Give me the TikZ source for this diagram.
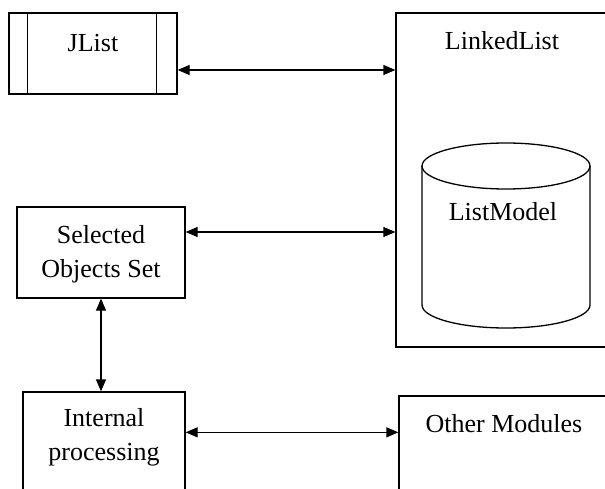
\documentclass[tikz,border=0pt]{standalone}
\usepackage{fontspec}
\setmainfont{Liberation Serif}
\usetikzlibrary{arrows.meta,calc}

\tikzset{
  box/.style={draw, line width=1.3pt, rectangle, inner sep=0pt},
  lbl/.style={font=\fontsize{26}{34}\selectfont, align=center, inner sep=0pt},
  link/.style={line width=1.3pt, {Triangle[length=12pt,width=10pt]}-{Triangle[length=12pt,width=10pt]}},
}

\begin{document}
\begin{tikzpicture}[x=1pt, y=-1pt]
  \useasboundingbox (0,0) rectangle (605,489);
  \clip (0,0) rectangle (605,489);
  \fill[white] (0,0) rectangle (605,489);

  % JList component with side bars
  \node[box, minimum width=168pt, minimum height=81pt] (jlist) at (93,53.5) {};
  \draw[line width=1.3pt] ([xshift=19pt]jlist.north west) -- ([xshift=19pt]jlist.south west);
  \draw[line width=1.3pt] ([xshift=-21pt]jlist.north east) -- ([xshift=-21pt]jlist.south east);
  \node[lbl] (jlisttext) at (93,43) {JList};

  % LinkedList container, running off the right edge
  \node[box, minimum width=230pt, minimum height=334pt] (linked) at (511,180) {};
  \node[lbl] (linkedtext) at (502,41) {LinkedList};

  % ListModel cylinder
  \draw[line width=1.3pt, fill=white] (422,166) -- (422,305)
      arc[start angle=180, end angle=360, x radius=84pt, y radius=23pt]
      -- (590,166);
  \draw[line width=1.3pt] (506,166) ellipse [x radius=84pt, y radius=23pt];
  \node[lbl] (listmodel) at (503,212) {ListModel};

  % Selected objects set
  \node[box, minimum width=168pt, minimum height=91pt] (sel) at (101,252.5) {};
  \node[lbl] (seltext) at (101,254) {Selected\\Objects Set};

  % Internal processing, running off the bottom edge
  \node[box, minimum width=162pt, minimum height=130pt] (internal) at (104,457) {};
  \node[lbl] (inttext) at (104,437) {Internal\\processing};

  % Other modules, running off the bottom and right edges
  \node[box, minimum width=230pt, minimum height=130pt] (other) at (514,461) {};
  \node[lbl] (othertext) at (504,424) {Other Modules};

  % Connectors
  \draw[link] ([yshift=-16.5pt]jlist.east) -- ([yshift=-16.5pt]jlist.east -| linked.west);
  \draw[link] ([yshift=20.5pt]sel.east) -- ([yshift=20.5pt]sel.east -| linked.west);
  \draw[link] (sel.south) -- (sel.south |- internal.north);
  \draw[link] ([yshift=-41pt]internal.north east) -- ([yshift=-41pt]internal.north east -| other.west);
\end{tikzpicture}
\end{document}
